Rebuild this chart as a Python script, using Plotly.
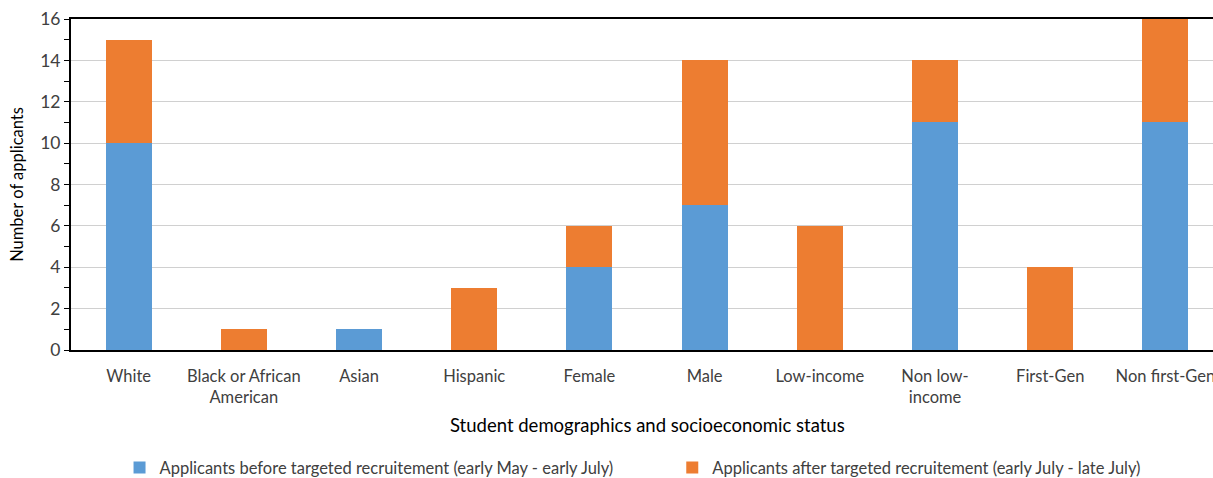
import plotly.graph_objects as go

# Applicant counts by group, split by recruitment period
categories = ["White", "Black or African<br>American", "Asian", "Hispanic", "Female",
              "Male", "Low-income", "Non low-<br>income", "First-Gen", "Non first-Gen"]
before_recruitment = [10, 0, 1, 0, 4, 7, 0, 11, 0, 11]
after_recruitment = [5, 1, 0, 3, 2, 7, 6, 3, 4, 5]

series_names = [
    "Applicants before targeted recruitement (early May - early July)",
    "Applicants after targeted recruitement (early July - late July)",
]
y_ticks = list(range(0, 17, 2))

BLUE = "#5B9BD5"
ORANGE = "#ED7D31"
FONT = "Lato, Carlito, Liberation Sans, sans-serif"
TEXT = "#404040"

fig = go.Figure()
fig.add_trace(go.Bar(x=categories, y=before_recruitment, name=series_names[0],
                     marker=dict(color=BLUE, line=dict(width=0)), legend="legend"))
fig.add_trace(go.Bar(x=categories, y=after_recruitment, name=series_names[1],
                     marker=dict(color=ORANGE, line=dict(width=0)), legend="legend2"))

legend_style = dict(orientation="h", xanchor="left", y=-0.356, yanchor="middle",
                    font=dict(size=16.5, color=TEXT), itemwidth=30, bgcolor="rgba(0,0,0,0)")

fig.update_layout(
    width=1213, height=478,
    margin=dict(l=71, r=0, t=19, b=128, autoexpand=False),
    barmode="stack", bargap=0.6,
    plot_bgcolor="white", paper_bgcolor="white",
    font=dict(family=FONT, size=16, color=TEXT),
    showlegend=True,
    legend=dict(x=0.0425, **legend_style),
    legend2=dict(x=0.5265, **legend_style),
)

fig.update_xaxes(
    type="category", range=[-0.5, 9.413], automargin=False,
    showline=True, linecolor="black", linewidth=2, mirror=True,
    ticks="", tickfont=dict(size=16.5, color=TEXT), ticklabelstandoff=10,
    showgrid=False,
)
fig.update_yaxes(
    range=[0, 16], tickvals=y_ticks, automargin=False,
    showline=True, linecolor="black", linewidth=2,
    ticks="outside", ticklen=5, tickcolor="black",
    minor=dict(dtick=1, ticks="outside", ticklen=5, tickcolor="black", showgrid=False),
    showgrid=True, gridcolor="#D0D0D0", gridwidth=1,
    tickfont=dict(size=17.5, color=TEXT),
    title=dict(text="Number of applicants", font=dict(size=16.5, color="black"), standoff=12),
    zeroline=False,
)

# Axis title centred under the full category span
fig.add_annotation(
    x=4.5, xref="x", y=-0.227, yref="paper", yanchor="middle",
    text="Student demographics and socioeconomic status",
    showarrow=False, font=dict(size=18.5, color="black"),
)

fig.write_html("out.html")
